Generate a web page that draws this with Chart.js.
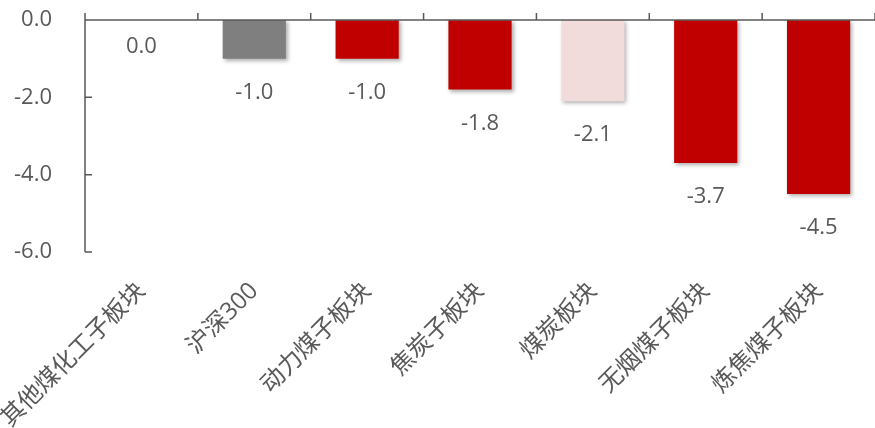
<!DOCTYPE html>
<html>
<head>
<meta charset="utf-8">
<script src="https://cdn.jsdelivr.net/npm/chart.js@4/dist/chart.umd.min.js"></script>
<style>
  html, body { margin: 0; padding: 0; background: #ffffff; }
  #wrap { width: 875px; height: 428px; position: relative; }
</style>
</head>
<body>
<div id="wrap"><canvas id="c"></canvas></div>
<script>
// Sector returns (%)
const categories = ['其他煤化工子板块', '沪深300', '动力煤子板块', '焦炭子板块', '煤炭板块', '无烟煤子板块', '炼焦煤子板块'];
const changes = [0.0, -1.0, -1.0, -1.8, -2.1, -3.7, -4.5];
const barColors = ['#C00000', '#7F7F7F', '#C00000', '#C00000', '#F2DCDB', '#C00000', '#C00000'];
const yTickValues = [0, -2, -4, -6];

const AXIS_COLOR = '#595959';
const TEXT_COLOR = '#595959';
const FONT = '"Open Sans", "Noto Sans CJK SC", sans-serif';

// Bar shadows, axis lines with inward tick marks, and value labels
const decorations = {
  id: 'decorations',
  beforeDatasetsDraw(chart) {
    const ctx = chart.ctx;
    ctx.save();
    ctx.shadowColor = 'rgba(0,0,0,0.32)';
    ctx.shadowBlur = 4;
    ctx.shadowOffsetX = 2;
    ctx.shadowOffsetY = 2;
  },
  afterDatasetsDraw(chart) {
    const ctx = chart.ctx;
    ctx.restore();
    const x = chart.scales.x, y = chart.scales.y;
    const area = chart.chartArea;
    const y0 = y.getPixelForValue(0);
    const yBottom = y.getPixelForValue(Math.min(...yTickValues));
    const tick = 7;

    ctx.save();
    ctx.strokeStyle = AXIS_COLOR;
    ctx.lineWidth = 1.5;
    ctx.beginPath();
    // category axis along zero
    ctx.moveTo(area.left, y0);
    ctx.lineTo(area.right, y0);
    // category boundary ticks pointing up
    for (let i = 0; i <= categories.length; i++) {
      const px = x.getPixelForValue(i - 0.5);
      ctx.moveTo(px, y0 - tick);
      ctx.lineTo(px, y0);
    }
    // value axis
    ctx.moveTo(area.left, y0 - tick);
    ctx.lineTo(area.left, yBottom);
    yTickValues.forEach(v => {
      if (v === 0) return;
      const py = y.getPixelForValue(v);
      ctx.moveTo(area.left, py);
      ctx.lineTo(area.left + tick, py);
    });
    ctx.stroke();

    // value labels beneath each bar end
    ctx.fillStyle = TEXT_COLOR;
    ctx.font = '22px ' + FONT;
    ctx.textAlign = 'center';
    ctx.textBaseline = 'middle';
    const meta = chart.getDatasetMeta(0);
    meta.data.forEach((bar, i) => {
      const v = changes[i];
      const offset = Math.abs(bar.y - bar.base) < 1 ? 27 : 34;
      ctx.fillText(v.toFixed(1), bar.x, bar.y + offset);
    });
    ctx.restore();
  }
};

new Chart(document.getElementById('c'), {
  type: 'bar',
  data: {
    labels: categories,
    datasets: [{
      data: changes,
      backgroundColor: barColors,
      borderWidth: 0,
      barPercentage: 0.56,
      categoryPercentage: 1.0
    }]
  },
  options: {
    responsive: true,
    maintainAspectRatio: false,
    animation: false,
    devicePixelRatio: 1,
    layout: { padding: { top: 20, right: 0, left: 0, bottom: 0 } },
    plugins: { legend: { display: false }, tooltip: { enabled: false } },
    scales: {
      x: {
        position: 'bottom',
        grid: { display: false, drawTicks: false },
        border: { display: false },
        ticks: {
          color: TEXT_COLOR,
          font: { family: FONT, size: 24 },
          minRotation: 45,
          maxRotation: 45,
          autoSkip: false,
          padding: 25
        },
        afterFit(scale) {
          scale.paddingLeft = 0;
          scale.paddingRight = 0;
          scale.height = 176;
        }
      },
      y: {
        min: -6,
        max: 0,
        grid: { display: false, drawTicks: false },
        border: { display: false },
        ticks: {
          stepSize: 2,
          color: TEXT_COLOR,
          font: { family: FONT, size: 22 },
          padding: 33,
          callback: v => Number(v).toFixed(1)
        },
        afterBuildTicks(scale) {
          scale.ticks = yTickValues.map(v => ({ value: v }));
        },
        afterFit(scale) {
          scale.width = 85;
          scale.paddingTop = 0;
          scale.paddingBottom = 0;
        }
      }
    }
  },
  plugins: [decorations]
});
</script>
</body>
</html>
